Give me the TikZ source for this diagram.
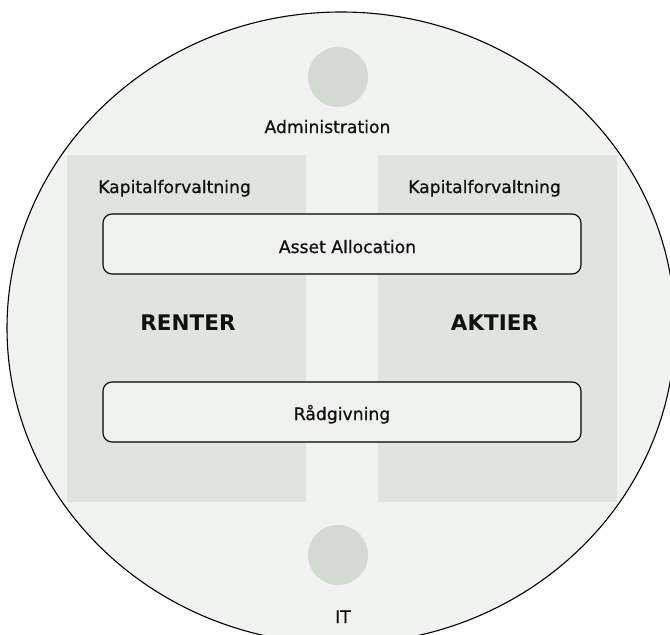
\documentclass[tikz,border=0pt]{standalone}
\usepackage{fontspec}
\setmainfont{DejaVu Sans}
\newfontfamily\semib[FakeBold=0.7]{DejaVu Sans}
\definecolor{bgc}{HTML}{F1F3F0}
\definecolor{panel}{HTML}{E0E4DF}
\definecolor{dot}{HTML}{D3DAD2}
\definecolor{boxc}{HTML}{EFF1EE}
\definecolor{txt}{HTML}{111111}
\tikzset{
  lbl/.style={anchor=base, inner sep=0pt, text=txt, font=\fontsize{17.2}{20}\semib},
  big/.style={anchor=base, inner sep=0pt, text=txt, font=\fontsize{21.5}{24}\selectfont\bfseries},
  panelbox/.style={fill=panel, draw=none},
  roundbox/.style={draw=black, line width=1.1pt, rounded corners=9pt, fill=boxc},
  dotc/.style={fill=dot, draw=none, circle, minimum size=60pt, inner sep=0pt}
}
\begin{document}
\begin{tikzpicture}[x=1pt,y=-1pt]
\useasboundingbox (0,0) rectangle (670,635);
\clip (0,0) rectangle (670,635);
\filldraw[fill=bgc, draw=black, line width=1.1pt] (341,328) ellipse [x radius=334, y radius=316];
\fill[panelbox] (67,155) rectangle (306,502);
\fill[panelbox] (378,155) rectangle (617,502);
\node[dotc] (adm) at (338,77) {};
\node[dotc] (it) at (338,555) {};
\node[lbl] (admtxt) at (327.5,133) {Administration};
\node[lbl] (ittxt) at (343,623) {IT};
\node[lbl] (kapl) at (174.5,193) {Kapitalforvaltning};
\node[lbl] (kapr) at (484.5,193) {Kapitalforvaltning};
\draw[roundbox] (103,214) rectangle (581,274);
\node[lbl] (asset) at (347.5,253) {Asset Allocation};
\draw[roundbox] (103,382) rectangle (581,442);
\node[lbl] (raad) at (342,420) {Rådgivning};
\node[big] (renter) at (188,330) {RENTER};
\node[big] (aktier) at (494.5,330) {AKTIER};
\end{tikzpicture}
\end{document}
